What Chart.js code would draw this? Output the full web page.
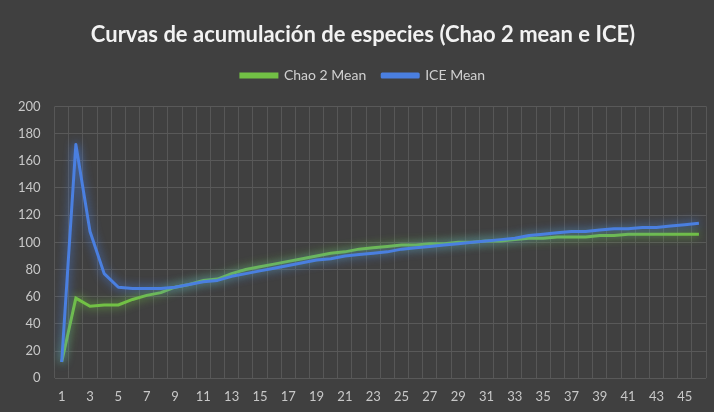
<!DOCTYPE html>
<html>
<head>
<meta charset="utf-8">
<title>Curvas de acumulación</title>
<script src="https://cdn.jsdelivr.net/npm/chart.js@4/dist/chart.umd.min.js"></script>
<style>
  html, body { margin: 0; padding: 0; background: #404040; }
  #wrap { width: 714px; height: 412px; position: relative; }
</style>
</head>
<body>
<div id="wrap"><canvas id="curvas"></canvas></div>
<script>
// muestras 1..46
const muestras = Array.from({ length: 46 }, (_, i) => String(i + 1));

const chao2Mean = [
  12, 59, 53, 54, 54, 58, 61, 63, 67, 69,
  72, 73, 77, 80, 82, 84, 86, 88, 90, 92,
  93, 95, 96, 97, 98, 98, 99, 99, 100, 100,
  101, 101, 102, 103, 103, 104, 104, 104, 105, 105,
  106, 106, 106, 106, 106, 106
];

const iceMean = [
  12, 172, 108, 77, 67, 66, 66, 66, 67, 69,
  71, 72, 75, 77, 79, 81, 83, 85, 87, 88,
  90, 91, 92, 93, 95, 96, 97, 98, 99, 100,
  101, 102, 103, 105, 106, 107, 108, 108, 109, 110,
  110, 111, 111, 112, 113, 114
];

const yTicks = [0, 20, 40, 60, 80, 100, 120, 140, 160, 180, 200];

// halo suave alrededor de cada curva
const glowPlugin = {
  id: 'glow',
  beforeDatasetDraw(chart, args) {
    const ctx = chart.ctx;
    ctx.save();
    ctx.shadowColor = args.meta.dataset.options.borderColor;
    ctx.shadowBlur = 10;
  },
  afterDatasetDraw(chart) {
    chart.ctx.restore();
  }
};

// deja más aire debajo de la leyenda y centra título y leyenda sobre el gráfico
const legendGap = {
  id: 'legendGap',
  beforeInit(chart) {
    const fit = chart.legend.fit;
    chart.legend.fit = function () {
      fit.call(this);
      this.height += 14;
    };
  },
  afterLayout(chart) {
    [chart.titleBlock, chart.legend].forEach(b => {
      b.left += 8;
      b.right += 8;
    });
  }
};

const ctx = document.getElementById('curvas').getContext('2d');
new Chart(ctx, {
  type: 'line',
  data: {
    labels: muestras,
    datasets: [
      {
        label: 'Chao 2 Mean',
        data: chao2Mean,
        borderColor: '#72c145',
        borderWidth: 3,
        pointRadius: 0,
        tension: 0,
        order: 1
      },
      {
        label: 'ICE Mean',
        data: iceMean,
        borderColor: '#4a7fe0',
        borderWidth: 3,
        borderJoinStyle: 'round',
        pointRadius: 0,
        tension: 0,
        order: 0
      }
    ]
  },
  plugins: [glowPlugin, legendGap],
  options: {
    responsive: true,
    maintainAspectRatio: false,
    animation: false,
    layout: { padding: { left: 4, right: 8, top: 16, bottom: -4 } },
    plugins: {
      title: {
        display: true,
        text: 'Curvas de acumulación de especies (Chao 2 mean e ICE)',
        color: '#f2f2f2',
        font: { family: 'Lato', size: 22, weight: 'bold' },
        padding: { top: 6, bottom: 4 }
      },
      legend: {
        position: 'top',
        labels: {
          color: '#d0d0d0',
          font: { family: 'Lato', size: 14 },
          boxWidth: 36,
          boxHeight: 3,
          padding: 16,
          sort: (a, b) => a.datasetIndex - b.datasetIndex
        }
      },
      tooltip: { enabled: false }
    },
    scales: {
      x: {
        offset: true,
        grid: { offset: true, color: '#575757', drawTicks: false },
        border: { display: false },
        ticks: {
          color: '#c8c8c8',
          font: { family: 'Lato', size: 13, lineHeight: 0.9 },
          autoSkip: false,
          maxRotation: 0,
          padding: 13,
          callback: (v, i) => (i % 2 === 0 ? muestras[i] : '')
        }
      },
      y: {
        min: 0,
        max: 200,
        afterBuildTicks: (axis) => { axis.ticks = yTicks.map(v => ({ value: v })); },
        grid: { color: '#595959', drawTicks: false },
        border: { display: false },
        ticks: {
          color: '#c8c8c8',
          font: { family: 'Lato', size: 13 },
          padding: 14
        }
      }
    }
  }
});
</script>
</body>
</html>
